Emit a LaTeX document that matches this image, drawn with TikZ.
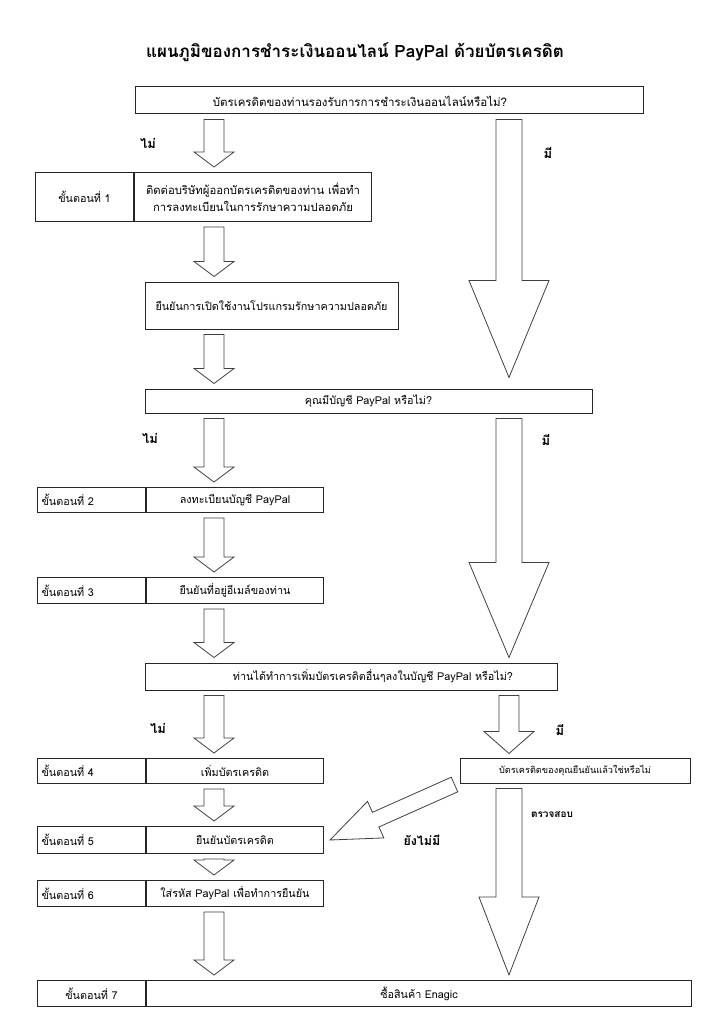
\documentclass[tikz,border=0pt]{standalone}
\usepackage{fontspec}
\setmainfont[Script=Thai]{Loma}
\usepackage{tikz}
\usetikzlibrary{calc}

% block arrow: tail, tip, shaft half width, head half width, head length
\newcommand{\blockarrow}[5]{%
  \coordinate (ba-a) at (#1);
  \coordinate (ba-b) at (#2);
  \coordinate (ba-h) at ($(ba-b)!#5!(ba-a)$);
  \draw[barrow] ($(ba-a)!#3!90:(ba-b)$) -- ($(ba-h)!#3!90:(ba-b)$)
    -- ($(ba-h)!#4!90:(ba-b)$) -- (ba-b) -- ($(ba-h)!#4!-90:(ba-b)$)
    -- ($(ba-h)!#3!-90:(ba-b)$) -- ($(ba-a)!#3!-90:(ba-b)$) -- cycle;}
% straight down from one box to the next, in a given column
\newcommand{\blockdown}[7][5]{%
  \blockarrow{$(#2.south -| #4)+(0,5)$}{$(#3.north -| #4)+(0,-#1)$}{#5}{#6}{#7}}

\begin{document}
\begin{tikzpicture}[x=1pt,y=-1pt,
  every node/.style={font=\fontsize{10.8}{13}\selectfont},
  box/.style={draw=black!85,line width=1pt,inner sep=2pt},
  cell/.style={box,anchor=north west},
  steplabel/.style={cell,minimum width=108pt,text width=100pt,inner xsep=4pt,align=left},
  answer/.style={font=\fontsize{13}{15}\selectfont\bfseries},
  barrow/.style={draw=black!75,line width=0.8pt,fill=white,line join=miter}
]
\fill[white] (0,0) rectangle (724,1024);
\useasboundingbox (0,0) rectangle (724,1024);
\coordinate (lcol) at (214,0);
\coordinate (rcol) at (509,0);

\node[font=\fontsize{17}{20}\selectfont\bfseries] (title) at (355,52)
  {แผนภูมิของการชำระเงินออนไลน์ PayPal ด้วยบัตรเครดิต};

% questions
\node[box,minimum width=508pt,minimum height=27pt] (q1) at (389,100.5) {};
\node[font=\fontsize{11.5}{14}\selectfont] (q1t) at (360,101)
  {บัตรเครดิตของท่านรองรับการการชำระเงินออนไลน์หรือไม่?};
\node[box,minimum width=447pt,minimum height=24pt] (q2) at (368.5,401)
  {คุณมีบัญชี PayPal หรือไม่?};
\node[box,minimum width=412pt,minimum height=27pt] (q3) at (351,676.5) {};
\node (q3t) at (373,676.5) {ท่านได้ทำการเพิ่มบัตรเครดิตอื่นๆลงในบัญชี PayPal หรือไม่?};
\node[box,minimum width=230pt,minimum height=25pt,font=\fontsize{9.2}{11}\selectfont]
  (check) at (575,770.5) {บัตรเครดิตของคุณยืนยันแล้วใช่หรือไม่};

% steps
\node[cell,minimum width=98pt,minimum height=49pt] (n1) at (35,172) {ขั้นตอนที่ 1};
\node[cell,minimum width=237pt,minimum height=49pt,align=center,
  font=\fontsize{11.3}{17}\selectfont] (s1) at (n1.north east)
  {ติดต่อบริษัทผู้ออกบัตรเครดิตของท่าน เพื่อทำ\\การลงทะเบียนในการรักษาความปลอดภัย};
\node[box,minimum width=253pt,minimum height=47pt] (c1) at (271.5,305.5)
  {ยืนยันการเปิดใช้งานโปรแกรมรักษาความปลอดภัย};
\foreach \n/\ty/\th/\txt in {2/487/25/ลงทะเบียนบัญชี PayPal,
    3/577/26/ยืนยันที่อยู่อีเมล์ของท่าน, 4/758/25/เพิ่มบัตรเครดิต,
    5/826/27/ยืนยันบัตรเครดิต, 6/880/26/ใส่รหัส PayPal เพื่อทำการยืนยัน} {
  \node[steplabel,minimum height=\th pt] (n\n) at (37,\ty) {ขั้นตอนที่ \n};
  \node[cell,minimum width=177pt,minimum height=\th pt] (s\n) at (n\n.north east) {\txt};
}
\node[cell,minimum width=108pt,minimum height=26pt] (n7) at (37,980) {ขั้นตอนที่ 7};
\node[cell,minimum width=545pt,minimum height=26pt] (s7) at (n7.north east) {ซื้อสินค้า Enagic};

% arrows
\foreach \a/\b in {q1/s1,s1/c1,c1/q2,q2/s2,s2/s3,s3/q3,q3/s4,s4/s5,s5/s6,s6/s7}
  \blockdown{\a}{\b}{lcol}{10pt}{20pt}{15pt};
\blockdown[11]{q1}{q2}{rcol}{13pt}{40pt}{97pt}
\blockdown{q2}{q3}{rcol}{13pt}{40pt}{95pt}
\blockdown[4]{q3}{check}{rcol}{10pt}{25pt}{22pt}
\blockdown{check}{s7}{rcol}{13pt}{30pt}{78pt}
\blockarrow{$(check.south west)+(-5,1)$}{$(s5.east)+(6,0)$}{8pt}{20pt}{50pt}

% answers
\node[answer] (no1) at (148,143) {ไม่};
\node[answer] (yes1) at (548,153) {มี};
\node[answer] (no2) at (150,438) {ไม่};
\node[answer] (yes2) at (546,440) {มี};
\node[answer] (no3) at (158,728) {ไม่};
\node[answer] (yes3) at (560,730) {มี};
\node[font=\fontsize{10}{12}\selectfont\bfseries] (verify) at (552,815) {ตรวจสอบ};
\node[font=\fontsize{12.5}{15}\selectfont\bfseries] (notyet) at (422,840) {ยังไม่มี};
\end{tikzpicture}
\end{document}
